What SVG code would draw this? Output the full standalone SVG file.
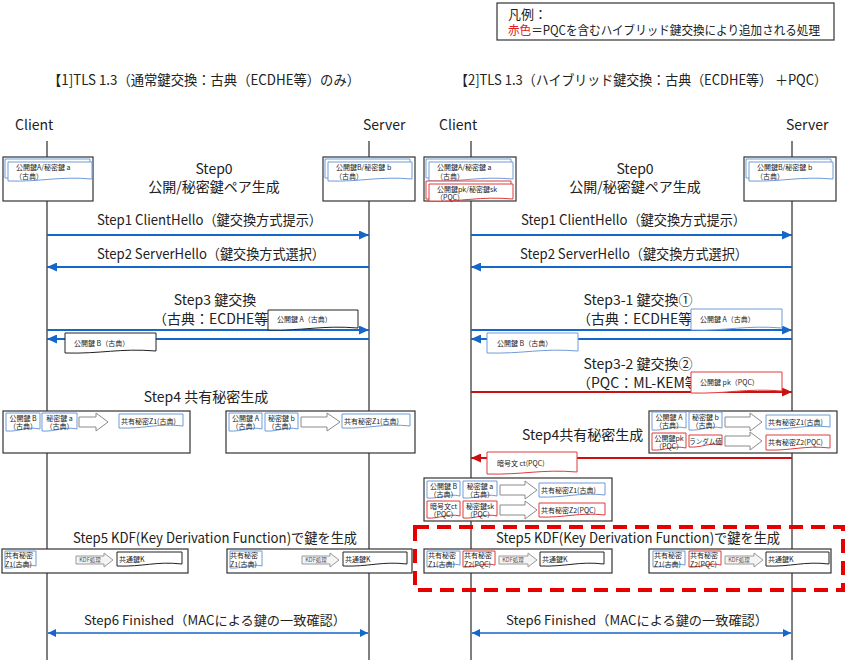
<svg xmlns="http://www.w3.org/2000/svg" width="850" height="666" viewBox="0 0 850 666">
<defs>
<style>
text{font-family:"Noto Sans CJK JP","Noto Sans",sans-serif;fill:#222}
.t14{font-size:14px}
.t13{font-size:13px}
.s{font-size:7px}
.s6{font-size:6.5px}
.k{font-size:5.5px;fill:#555}
.m{text-anchor:middle}
.ll{stroke:#000;stroke-width:1}
.box{fill:#fff;stroke:#333;stroke-width:1.2}
.db{fill:#fff;stroke:#6f9bd8;stroke-width:1}
.dr{fill:#fff;stroke:#e03a3a;stroke-width:1}
.dk{fill:#fff;stroke:#222;stroke-width:1}
.ba{fill:#fff;stroke:#8a8a8a;stroke-width:1}
.kd{fill:#f4f4f4;stroke:#999;stroke-width:1}
.ab{stroke:#1466c8;stroke-width:2;fill:none}
.ar{stroke:#cc1010;stroke-width:2;fill:none}
.a6{stroke:#1466c8;stroke-width:1.6;fill:none}
</style>
<marker id="mb" markerUnits="userSpaceOnUse" markerWidth="10" markerHeight="9" refX="10" refY="4.5" orient="auto"><path d="M0,0L10,4.5L0,9z" fill="#1466c8"/></marker>
<marker id="mr" markerUnits="userSpaceOnUse" markerWidth="10" markerHeight="9" refX="10" refY="4.5" orient="auto"><path d="M0,0L10,4.5L0,9z" fill="#cc1010"/></marker>
<marker id="m6" markerUnits="userSpaceOnUse" markerWidth="8" markerHeight="8" refX="8" refY="4" orient="auto-start-reverse"><path d="M0,0L8,4L0,8z" fill="#1466c8"/></marker>
</defs>
<rect width="850" height="666" fill="#fff"/>

<g id="legend">
<rect x="497" y="3" width="337" height="37" fill="#fff" stroke="#333" stroke-width="1.2"/>
<text x="508" y="19" class="t13">凡例：</text>
<text x="508" y="35" style="font-size:12.5px" textLength="312" lengthAdjust="spacingAndGlyphs"><tspan fill="#e02020">赤色</tspan>＝PQCを含むハイブリッド鍵交換により追加される処理</text>
</g>

<g id="headers">
<text x="48" y="85" class="t14" textLength="312" lengthAdjust="spacingAndGlyphs">【1]TLS 1.3（通常鍵交換：古典（ECDHE等）のみ）</text>
<text x="455" y="85" class="t14" textLength="372" lengthAdjust="spacingAndGlyphs">【2]TLS 1.3（ハイブリッド鍵交換：古典（ECDHE等） ＋PQC）</text>
<text x="15" y="130" class="t14">Client</text>
<text x="363" y="130" class="t14">Server</text>
<text x="439" y="130" class="t14">Client</text>
<text x="786" y="130" class="t14">Server</text>
</g>

<g id="lifelines">
<line class="ll" x1="47" y1="141" x2="47" y2="660"/>
<line class="ll" x1="369" y1="141" x2="369" y2="660"/>
<line class="ll" x1="471" y1="141" x2="471" y2="660"/>
<line class="ll" x1="792" y1="141" x2="792" y2="660"/>
</g>

<g id="step-labels">
<text x="214" y="174" class="t14 m">Step0</text>
<text x="214" y="192" class="t14 m">公開/秘密鍵ペア生成</text>
<text x="635" y="174" class="t14 m">Step0</text>
<text x="635" y="192" class="t14 m">公開/秘密鍵ペア生成</text>
<text x="97" y="225" class="t14" textLength="225" lengthAdjust="spacingAndGlyphs">Step1 ClientHello（鍵交換方式提示）</text>
<text x="521" y="225" class="t14" textLength="225" lengthAdjust="spacingAndGlyphs">Step1 ClientHello（鍵交換方式提示）</text>
<text x="97" y="259" class="t14" textLength="228" lengthAdjust="spacingAndGlyphs">Step2 ServerHello（鍵交換方式選択）</text>
<text x="520" y="259" class="t14" textLength="228" lengthAdjust="spacingAndGlyphs">Step2 ServerHello（鍵交換方式選択）</text>
<text x="215" y="305" class="t14 m">Step3 鍵交換</text>
<text x="153" y="324" class="t14">（古典：ECDHE等</text>
<text x="638" y="305" class="t14 m">Step3-1 鍵交換①</text>
<text x="577" y="324" class="t14">（古典：ECDHE等</text>
<text x="638" y="369" class="t14 m">Step3-2 鍵交換②</text>
<text x="577" y="388" class="t14">（PQC：ML-KEM等</text>
<text x="206" y="402" class="t14 m">Step4 共有秘密生成</text>
<text x="522" y="440" class="t14">Step4共有秘密生成</text>
<text x="73" y="543" class="t14" textLength="284" lengthAdjust="spacingAndGlyphs">Step5 KDF(Key Derivation Function)で鍵を生成</text>
<text x="496" y="543" class="t14" textLength="284" lengthAdjust="spacingAndGlyphs">Step5 KDF(Key Derivation Function)で鍵を生成</text>
<text x="84" y="625" class="t13" textLength="262" lengthAdjust="spacingAndGlyphs">Step6 Finished（MACによる鍵の一致確認）</text>
<text x="506" y="625" class="t13" textLength="262" lengthAdjust="spacingAndGlyphs">Step6 Finished（MACによる鍵の一致確認）</text>
</g>

<g id="connectors">
<line class="ab" x1="47" y1="235" x2="369" y2="235" marker-end="url(#mb)"/>
<line class="ab" x1="369" y1="267" x2="47" y2="267" marker-end="url(#mb)"/>
<line class="ab" x1="47" y1="330" x2="369" y2="330" marker-end="url(#mb)"/>
<line class="ab" x1="369" y1="339" x2="47" y2="339" marker-end="url(#mb)"/>
<line class="a6" x1="48" y1="633" x2="368" y2="633" marker-start="url(#m6)" marker-end="url(#m6)"/>
<line class="ab" x1="471" y1="235" x2="792" y2="235" marker-end="url(#mb)"/>
<line class="ab" x1="792" y1="267" x2="471" y2="267" marker-end="url(#mb)"/>
<line class="ab" x1="471" y1="330" x2="792" y2="330" marker-end="url(#mb)"/>
<line class="ab" x1="792" y1="339" x2="471" y2="339" marker-end="url(#mb)"/>
<line class="ar" x1="471" y1="392" x2="792" y2="392" marker-end="url(#mr)"/>
<line class="ar" x1="792" y1="458" x2="471" y2="458" marker-end="url(#mr)"/>
<line class="a6" x1="472" y1="633" x2="791" y2="633" marker-start="url(#m6)" marker-end="url(#m6)"/>
</g>

<g id="msg-labels">
<path class="dk" d="M268 310h90v18c-36 -3 -54 3 -90 2z"/>
<text x="277" y="322" class="s">公開鍵 A（古典）</text>
<path class="dk" d="M65 333h91v18c-36.4 -3 -54.6 3 -91 2z"/>
<text x="74" y="346" class="s">公開鍵 B（古典）</text>
<path class="db" d="M691 309h91v19c-36.4 -3 -54.6 3 -91 2z"/>
<text x="700" y="322" class="s">公開鍵 A（古典）</text>
<path class="db" d="M487 333h91v18c-36.4 -3 -54.6 3 -91 2z"/>
<text x="497" y="346" class="s">公開鍵 B（古典）</text>
<path class="dr" d="M691 372h91v19c-36.4 -3 -54.6 3 -91 2z"/>
<text x="700" y="385" class="s">公開鍵 pk（PQC）</text>
<path class="dr" d="M487 452h90v20c-36 -3 -54 3 -90 2z"/>
<text x="497" y="466" class="s">暗号文 ct(PQC)</text>
</g>

<g id="s0-client-L">
<rect class="box" x="3" y="157" width="90" height="44"/>
<path class="db" d="M5 159h85v17c-34 -3 -51 3 -85 2z"/>
<path class="db" d="M8 162h84v17c-33.6 -3 -50.4 3 -84 2z"/>
<text x="16" y="170" class="s">公開鍵A/秘密鍵 a</text>
<text x="15" y="179" class="s">（古典）</text>
</g>
<g id="s0-server-L">
<rect class="box" x="323" y="157" width="92" height="44"/>
<path class="db" d="M325 159h85v17c-34 -3 -51 3 -85 2z"/>
<path class="db" d="M328 162h84v17c-33.6 -3 -50.4 3 -84 2z"/>
<text x="336" y="170" class="s">公開鍵B/秘密鍵 b</text>
<text x="335" y="179" class="s">（古典）</text>
</g>
<g id="s0-client-R">
<rect class="box" x="424" y="157" width="92" height="44"/>
<path class="db" d="M426 159h85v17c-34 -3 -51 3 -85 2z"/>
<path class="db" d="M429 162h84v17c-33.6 -3 -50.4 3 -84 2z"/>
<text x="437" y="170" class="s">公開鍵A/秘密鍵 a</text>
<text x="436" y="179" class="s">（古典）</text>
<path class="dr" d="M426 181h85v16c-34 -3 -51 3 -85 2z"/>
<path class="dr" d="M429 184h84v15c-33.6 -3 -50.4 3 -84 2z"/>
<text x="437" y="192" class="s">公開鍵pk/秘密鍵sk</text>
<text x="436" y="200" class="s">（PQC）</text>
</g>
<g id="s0-server-R">
<rect class="box" x="744" y="157" width="92" height="44"/>
<path class="db" d="M746 159h85v17c-34 -3 -51 3 -85 2z"/>
<path class="db" d="M749 162h84v17c-33.6 -3 -50.4 3 -84 2z"/>
<text x="757" y="170" class="s">公開鍵B/秘密鍵 b</text>
<text x="756" y="179" class="s">（古典）</text>
</g>

<g id="s4-client-L">
<rect class="box" x="3" y="411" width="187" height="42"/>
<path class="db" d="M6 413h34v16c-13.6 -3 -20.4 3 -34 2z"/>
<text x="23" y="421" class="s m">公開鍵 B</text><text x="23" y="429" class="s m">（古典）</text>
<path class="db" d="M42 413h35v16c-14 -3 -21 3 -35 2z"/>
<text x="59.5" y="421" class="s m">秘密鍵 a</text><text x="59.5" y="429" class="s m">（古典）</text>
<path class="ba" d="M79 417H96V413L108 422L96 431V427H79Z"/>
<path class="db" d="M119 414h64v12c-25.6 -3 -38.4 3 -64 2z"/>
<text x="121" y="424" class="s">共有秘密Z1(古典)</text>
</g>
<g id="s4-server-L">
<rect class="box" x="226" y="411" width="189" height="42"/>
<path class="db" d="M229 413h33v16c-13.2 -3 -19.8 3 -33 2z"/>
<text x="245.5" y="421" class="s m">公開鍵 A</text><text x="245.5" y="429" class="s m">（古典）</text>
<path class="db" d="M265 413h33v16c-13.2 -3 -19.8 3 -33 2z"/>
<text x="281.5" y="421" class="s m">秘密鍵 b</text><text x="281.5" y="429" class="s m">（古典）</text>
<path class="ba" d="M301 417H327V413L340 422L327 431V427H301Z"/>
<path class="db" d="M342 414h68v12c-27.2 -3 -40.8 3 -68 2z"/>
<text x="344" y="424" class="s">共有秘密Z1(古典)</text>
</g>
<g id="s4-server-R">
<rect class="box" x="649" y="411" width="188" height="42"/>
<path class="db" d="M652 412h34v16c-13.6 -3 -20.4 3 -34 2z"/>
<text x="669" y="420" class="s m">公開鍵 A</text><text x="669" y="428" class="s m">（古典）</text>
<path class="db" d="M689 412h33v16c-13.2 -3 -19.8 3 -33 2z"/>
<text x="705.5" y="420" class="s m">秘密鍵 b</text><text x="705.5" y="428" class="s m">（古典）</text>
<path class="ba" d="M725 417H750V413L762 422L750 431V427H725Z"/>
<path class="db" d="M766 415h64v12c-25.6 -3 -38.4 3 -64 2z"/>
<text x="768" y="425" class="s">共有秘密Z1(古典)</text>
<path class="dr" d="M652 433h34v15c-13.6 -3 -20.4 3 -34 2z"/>
<text x="669" y="441" class="s m">公開鍵pk</text><text x="669" y="449" class="s m">（PQC）</text>
<path class="dr" d="M689 435h33v10c-13.2 -3 -19.8 3 -33 2z"/>
<text x="705.5" y="444" class="s6 m">ランダム値</text>
<path class="ba" d="M725 436H750V432L762 441L750 450V446H725Z"/>
<path class="dr" d="M766 435h64v13c-25.6 -3 -38.4 3 -64 2z"/>
<text x="768" y="445" class="s">共有秘密Z2(PQC)</text>
</g>
<g id="s4-client-R">
<rect class="box" x="424" y="478" width="188" height="43"/>
<path class="db" d="M427 481h33v15c-13.2 -3 -19.8 3 -33 2z"/>
<text x="443.5" y="489" class="s m">公開鍵 B</text><text x="443.5" y="497" class="s m">（古典）</text>
<path class="db" d="M463 481h34v15c-13.6 -3 -20.4 3 -34 2z"/>
<text x="480" y="489" class="s m">秘密鍵 a</text><text x="480" y="497" class="s m">（古典）</text>
<path class="ba" d="M500 485H525V481L537 490L525 499V495H500Z"/>
<path class="db" d="M539 483h66v12c-26.4 -3 -39.6 3 -66 2z"/>
<text x="541" y="493" class="s">共有秘密Z1(古典)</text>
<path class="dr" d="M427 501h33v15c-13.2 -3 -19.8 3 -33 2z"/>
<text x="443.5" y="509" class="s m">暗号文ct</text><text x="443.5" y="517" class="s m">（PQC）</text>
<path class="dr" d="M463 501h34v15c-13.6 -3 -20.4 3 -34 2z"/>
<text x="480" y="509" class="s m">秘密鍵sk</text><text x="480" y="517" class="s m">（PQC）</text>
<path class="ba" d="M500 505H525V501L537 510L525 519V515H500Z"/>
<path class="dr" d="M539 503h66v12c-26.4 -3 -39.6 3 -66 2z"/>
<text x="541" y="513" class="s">共有秘密Z2(PQC)</text>
</g>

<g id="s5-client-L">
<rect class="box" x="2" y="549" width="186" height="24"/>
<path class="db" d="M5 551h31v15c-12.4 -3 -18.6 3 -31 2z"/>
<text x="5" y="558" class="s">共有秘密</text><text x="5" y="567" class="s">Z1(古典)</text>
<path class="kd" d="M76 556H104V553L113 560L104 567V564H76Z"/>
<text x="90" y="562" class="k m">KDF処理</text>
<path class="dk" d="M117 552h65v12c-26 -3 -39 3 -65 2z"/>
<text x="119" y="562" class="s">共通鍵K</text>
</g>
<g id="s5-server-L">
<rect class="box" x="227" y="549" width="185" height="24"/>
<path class="db" d="M230 551h32v15c-12.8 -3 -19.2 3 -32 2z"/>
<text x="230" y="558" class="s">共有秘密</text><text x="230" y="567" class="s">Z1(古典)</text>
<path class="kd" d="M302 556H330V553L339 560L330 567V564H302Z"/>
<text x="316" y="562" class="k m">KDF処理</text>
<path class="dk" d="M343 552h64v12c-25.6 -3 -38.4 3 -64 2z"/>
<text x="345" y="562" class="s">共通鍵K</text>
</g>
<g id="s5-client-R">
<rect class="box" x="424" y="549" width="188" height="24"/>
<path class="db" d="M427 551h33v14c-13.2 -3 -19.8 3 -33 2z"/>
<text x="428" y="558" class="s">共有秘密</text><text x="428" y="567" class="s">Z1(古典)</text>
<path class="dr" d="M463 551h32v14c-12.8 -3 -19.2 3 -32 2z"/>
<text x="464" y="558" class="s">共有秘密</text><text x="464" y="567" class="s">Z2(PQC)</text>
<path class="kd" d="M499 556H528V553L537 560L528 567V564H499Z"/>
<text x="513" y="562" class="k m">KDF処理</text>
<path class="dk" d="M540 552h64v12c-25.6 -3 -38.4 3 -64 2z"/>
<text x="542" y="562" class="s">共通鍵K</text>
</g>
<g id="s5-server-R">
<rect class="box" x="649" y="549" width="182" height="24"/>
<path class="db" d="M653 551h32v14c-12.8 -3 -19.2 3 -32 2z"/>
<text x="654" y="558" class="s">共有秘密</text><text x="654" y="567" class="s">Z1(古典)</text>
<path class="dr" d="M689 551h32v14c-12.8 -3 -19.2 3 -32 2z"/>
<text x="690" y="558" class="s">共有秘密</text><text x="690" y="567" class="s">Z2(PQC)</text>
<path class="kd" d="M725 556H754V553L763 560L754 567V564H725Z"/>
<text x="739" y="562" class="k m">KDF処理</text>
<path class="dk" d="M766 552h63v12c-25.2 -3 -37.8 3 -63 2z"/>
<text x="768" y="562" class="s">共通鍵K</text>
</g>

<g id="pqc-highlight">
<rect x="415" y="527" width="428" height="63" fill="none" stroke="#e80000" stroke-width="4" stroke-dasharray="14 8"/>
</g>
</svg>
